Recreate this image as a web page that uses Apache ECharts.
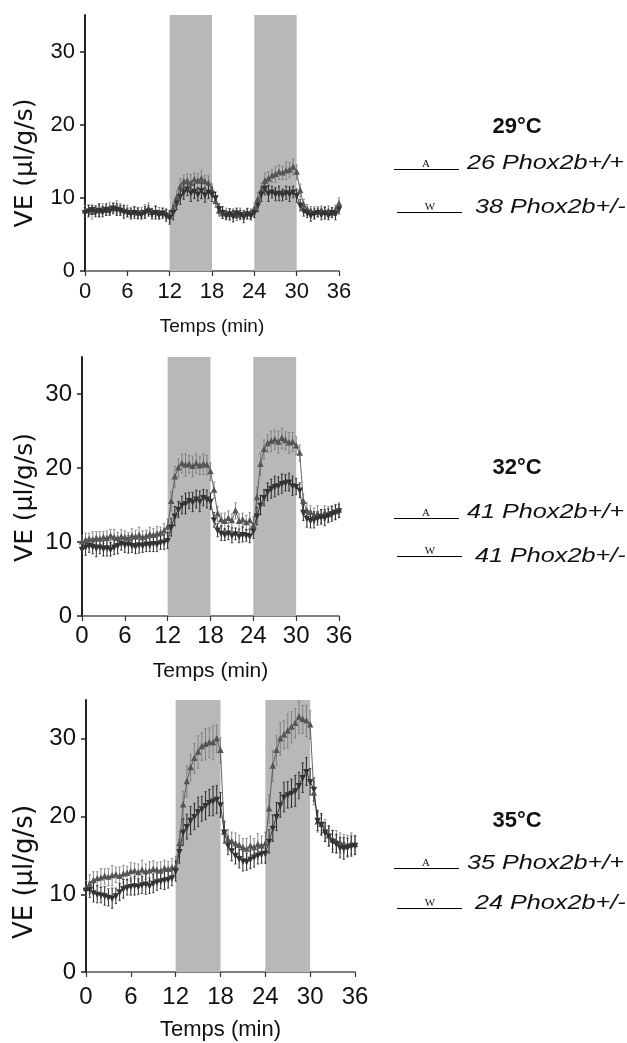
<!DOCTYPE html>
<html>
<head>
<meta charset="utf-8">
<script src="https://cdn.jsdelivr.net/npm/echarts@6/dist/echarts.min.js"></script>
<style>html,body{margin:0;padding:0;background:#fff;}#c{width:627px;height:1043px;}</style>
</head>
<body>
<div id="c"></div>
<script>
// ---- data ----
const times = [0,0.5,1,1.5,2,2.5,3,3.5,4,4.5,5,5.5,6,6.5,7,7.5,8,8.5,9,9.5,10,10.5,11,11.5,
  12,12.5,13,13.5,14,14.5,15,15.5,16,16.5,17,17.5,18,18.5,19,19.5,20,20.5,21,21.5,22,22.5,23,23.5,
  24,24.5,25,25.5,26,26.5,27,27.5,28,28.5,29,29.5,30,30.5,31,31.5,32,32.5,33,33.5,34,34.5,35,35.5,36];
const xTicks = [0,6,12,18,24,30,36];
const yTicks = [0,10,20,30];
const bands = [[12,18],[24,30]];
const temperatures = ['29°C','32°C','35°C'];
const labelsWT = ['26 Phox2b+/+','41 Phox2b+/+','35 Phox2b+/+'];
const labelsHET = ['38 Phox2b+/-','41 Phox2b+/-','24 Phox2b+/-'];

// 29°C
const ve29WT = [8.2,8.3,8.0,8.4,8.2,8.5,8.3,8.6,8.5,8.7,8.5,8.3,8.2,8.0,8.1,7.9,8.0,8.2,8.5,8.0,8.1,7.9,8.0,7.8,
  7.5,8.5,10.0,11.5,12.2,12.3,12.0,12.5,12.3,12.6,12.2,12.0,
  11.0,9.5,8.2,7.8,7.9,7.7,7.9,7.6,7.8,7.7,7.9,7.8,
  8.5,9.8,11.0,12.3,12.6,13.0,13.2,13.5,13.4,13.7,13.8,14.2,
  13.5,11.0,9.0,8.4,8.2,8.0,8.1,8.3,8.0,8.2,7.9,8.3,9.2];
const ve29HET = [8.0,8.2,8.4,8.1,8.3,8.1,8.4,8.2,8.6,8.4,8.3,8.1,8.0,7.8,8.0,7.9,7.7,8.0,8.2,7.8,8.0,7.7,7.9,7.6,
  7.3,8.0,9.3,10.2,10.8,11.2,10.7,10.9,10.5,11.0,10.4,10.8,
  10.5,10.0,8.5,8.0,7.6,7.8,7.5,7.9,7.7,7.4,7.8,7.6,
  8.0,9.0,10.5,11.3,10.6,10.8,10.5,10.6,10.4,10.7,10.5,10.8,
  10.3,9.0,8.2,7.9,7.6,7.8,8.0,7.7,7.9,7.6,8.0,7.8,8.5];
const err29WT = [0.8,0.7,0.9,0.6,0.8,0.7,0.6,0.8,0.7,0.9,0.7,0.6,0.8,0.7,0.6,0.8,0.7,0.9,0.8,0.6,0.7,0.8,0.6,0.7,
  0.8,0.9,1.0,1.1,0.9,1.0,1.2,0.9,1.0,1.1,0.9,1.0,
  0.9,0.8,0.7,0.6,0.7,0.8,0.6,0.7,0.8,0.6,0.7,0.7,
  0.8,0.9,1.0,1.1,1.0,0.9,1.1,1.0,0.9,1.2,1.0,1.1,
  1.0,0.9,0.8,0.7,0.6,0.8,0.7,0.6,0.8,0.7,0.6,0.7,0.8];
const err29HET = [0.7,0.8,0.6,0.7,0.9,0.7,0.8,0.6,0.7,0.8,0.7,0.9,0.6,0.7,0.8,0.7,0.6,0.8,0.7,0.7,0.9,0.6,0.7,0.8,
  0.9,1.0,0.9,1.1,1.0,0.9,1.2,1.0,0.9,1.1,1.0,0.9,
  1.0,0.8,0.7,0.8,0.6,0.7,0.8,0.7,0.6,0.8,0.7,0.6,
  0.7,0.9,1.0,0.9,1.1,0.8,0.9,1.0,0.8,0.9,1.0,0.8,
  0.9,0.8,0.7,0.6,0.8,0.7,0.6,0.7,0.8,0.6,0.7,0.8,0.7];

// 32°C
const ve32WT = [10.0,10.2,10.4,10.3,10.5,10.4,10.6,10.5,10.8,10.6,10.5,10.7,10.6,10.5,10.8,10.7,10.9,10.6,10.8,11.0,10.9,11.1,11.2,11.5,
  12.0,15.5,18.8,20.0,20.6,20.4,20.5,20.2,20.6,20.3,20.5,20.4,
  19.5,17.0,13.8,13.0,12.8,13.2,12.9,14.2,12.8,13.0,12.6,12.9,
  12.2,16.0,20.5,22.5,23.3,23.6,23.8,23.5,24.0,23.7,23.4,23.5,
  23.0,22.0,15.5,14.2,14.0,13.6,13.8,13.5,13.9,13.7,14.0,14.1,14.3];
const ve32HET = [9.0,9.3,9.5,9.4,9.2,9.3,9.1,9.2,9.0,9.3,9.5,9.8,9.6,9.7,9.5,9.4,9.6,9.5,9.7,9.6,9.8,9.7,9.9,10.0,
  10.2,12.0,13.5,14.4,15.0,15.2,15.6,15.4,15.8,15.5,16.0,15.8,
  15.5,13.0,11.6,11.2,11.0,11.2,10.9,11.1,10.8,11.0,10.9,10.8,
  11.5,13.5,15.0,16.0,16.8,17.2,17.5,17.6,17.9,18.0,18.1,17.6,
  17.5,17.0,14.0,13.2,12.9,13.0,13.2,13.4,13.3,13.6,13.8,14.0,14.2];
const err32WT = [0.9,1.0,0.8,1.1,0.9,1.0,0.8,1.0,0.9,1.1,0.8,1.0,0.9,0.8,1.0,0.9,1.1,0.9,0.8,1.0,0.9,1.0,0.8,1.0,
  1.1,1.3,1.4,1.2,1.3,1.5,1.2,1.4,1.3,1.2,1.4,1.3,
  1.2,1.1,1.0,0.9,1.1,1.0,0.9,1.1,1.0,0.9,1.0,1.1,
  1.2,1.4,1.5,1.3,1.2,1.4,1.3,1.5,1.4,1.2,1.4,1.3,
  1.2,1.1,1.0,1.1,0.9,1.0,1.1,0.9,1.0,1.1,0.9,1.0,1.0];
const err32HET = [1.0,1.1,0.9,1.0,1.2,0.9,1.0,1.1,0.9,1.0,1.1,0.9,1.0,1.2,0.9,1.0,1.1,0.9,1.0,0.9,1.1,1.0,0.9,1.0,
  1.1,1.2,1.3,1.1,1.2,1.4,1.1,1.3,1.2,1.4,1.1,1.2,
  1.1,1.0,0.9,1.0,0.8,0.9,1.0,0.8,0.9,1.0,0.8,0.9,
  1.0,1.2,1.3,1.1,1.2,1.3,1.4,1.2,1.3,1.1,1.2,1.3,
  1.1,1.0,1.1,1.2,1.0,1.1,0.9,1.0,1.1,0.9,1.0,1.0,0.9];

// 35°C
const ve35WT = [10.8,11.3,11.8,12.0,12.1,12.3,12.2,12.4,12.5,12.3,12.6,12.7,12.9,13.0,12.8,13.1,12.9,13.0,13.2,13.1,13.0,13.3,13.2,13.4,
  13.5,16.5,21.5,24.5,26.3,27.5,28.3,29.0,29.3,29.5,29.5,30.0,
  28.5,18.0,17.0,16.8,16.5,16.3,16.0,15.8,16.2,16.0,16.4,16.2,
  16.5,21.0,26.5,28.5,30.0,30.5,31.0,31.5,32.0,32.8,32.5,32.3,
  31.8,23.0,19.3,19.0,18.2,17.5,17.0,16.8,16.6,16.5,16.3,16.5,16.4];
const ve35HET = [10.5,10.6,10.2,10.0,9.9,9.8,9.6,9.5,9.8,10.3,10.7,10.9,11.0,11.1,11.0,11.2,11.3,11.1,11.4,11.6,11.7,11.8,11.9,12.1,
  13.0,15.5,18.0,18.7,19.5,20.0,20.6,21.0,21.4,21.8,22.0,22.2,
  21.5,18.0,16.3,15.6,15.0,14.6,14.3,14.2,14.5,14.8,15.0,15.2,
  15.3,16.8,18.5,20.0,21.5,22.5,22.8,23.0,23.3,24.0,25.0,25.8,
  24.5,23.5,19.5,19.0,18.0,17.5,16.8,16.5,16.0,15.9,16.0,16.2,16.3];
const err35WT = [1.0,1.2,1.1,0.9,1.2,1.0,1.1,1.3,1.0,1.2,1.1,0.9,1.2,1.0,1.1,1.3,1.0,1.2,1.1,1.0,1.2,1.1,1.0,1.2,
  1.4,1.6,1.8,2.0,1.7,1.9,2.1,1.8,2.0,1.9,2.2,1.8,
  1.6,1.4,1.3,1.2,1.4,1.3,1.2,1.4,1.3,1.2,1.4,1.3,
  1.5,1.8,2.0,1.9,2.1,1.8,2.2,2.0,1.9,2.1,1.8,2.0,
  1.8,1.5,1.3,1.2,1.4,1.3,1.2,1.4,1.3,1.2,1.3,1.4,1.2];
const err35HET = [1.1,1.0,1.2,1.1,1.0,1.2,1.1,1.3,1.0,1.1,1.2,1.0,1.1,1.2,1.0,1.1,1.3,1.0,1.2,1.1,1.0,1.2,1.1,1.0,
  1.3,1.5,1.7,1.6,1.8,1.7,1.9,1.6,1.8,1.7,1.9,1.8,
  1.6,1.4,1.2,1.3,1.1,1.2,1.3,1.1,1.2,1.3,1.1,1.2,
  1.3,1.5,1.7,1.8,1.6,1.9,1.7,1.8,2.0,1.7,1.9,1.8,
  1.7,1.5,1.3,1.4,1.2,1.3,1.4,1.2,1.3,1.4,1.2,1.3,1.2];

const panelWT = [ve29WT, ve32WT, ve35WT];
const panelHET = [ve29HET, ve32HET, ve35HET];
const panelErrWT = [err29WT, err32WT, err35WT];
const panelErrHET = [err29HET, err32HET, err35HET];

// ---- layout ----
const FONT = 'Liberation Sans, Arial, sans-serif';
const YFONT = 'DejaVu Sans, Liberation Sans, sans-serif';
const grids = [
  {left: 85, top: 15, width: 254, height: 256},
  {left: 82, top: 357, width: 257, height: 259},
  {left: 86, top: 700, width: 269, height: 272}
];
const tickFont = [22, 24, 24];
const xLabelMargin = [10, 8, 13];
const yNameFont = [25, 25, 26];
const yNameGap = [47, 44, 48];
const yNameShift = [40, 22, 72];
const xNameFont = [19, 21, 22];
const xNameGap = [46, 45, 47];
const legendPos = [
  {title: 127, l1: 169, t1: 163, l2: 212, t2: 207},
  {title: 468, l1: 518, t1: 512, l2: 556, t2: 556},
  {title: 821, l1: 868, t1: 863, l2: 908, t2: 903}
];

const chart = echarts.init(document.getElementById('c'), null, {renderer: 'canvas'});

function errRender(color, lw) {
  return function (params, api) {
    const lo = api.coord([api.value(0), api.value(1)]);
    const hi = api.coord([api.value(0), api.value(2)]);
    const w = 1.2;
    return {
      type: 'group',
      children: [
        {type: 'line', shape: {x1: lo[0], y1: lo[1], x2: hi[0], y2: hi[1]}, style: {stroke: color, lineWidth: lw}},
        {type: 'line', shape: {x1: hi[0] - w, y1: hi[1], x2: hi[0] + w, y2: hi[1]}, style: {stroke: color, lineWidth: 0.8}},
        {type: 'line', shape: {x1: lo[0] - w, y1: lo[1], x2: lo[0] + w, y2: lo[1]}, style: {stroke: color, lineWidth: 0.8}}
      ]
    };
  };
}

const xAxes = [], yAxes = [], series = [], graphics = [];
for (let i = 0; i < 3; i++) {
  xAxes.push({
    type: 'value', gridIndex: i, min: 0, max: 36,
    axisLine: {show: true, lineStyle: {color: '#555', width: 1.5}},
    axisTick: {show: true, length: 5, customValues: xTicks, lineStyle: {color: '#333', width: 1.2}},
    axisLabel: {customValues: xTicks, fontSize: tickFont[i], color: '#111', fontFamily: FONT, margin: xLabelMargin[i]},
    splitLine: {show: false},
    name: 'Temps (min)', nameLocation: 'middle', nameGap: xNameGap[i],
    nameTextStyle: {fontSize: xNameFont[i], color: '#111', fontFamily: FONT}
  });
  yAxes.push({
    type: 'value', gridIndex: i, min: 0, max: 35,
    axisLine: {show: true, lineStyle: {color: '#222', width: 2}},
    axisTick: {show: true, length: 5, customValues: yTicks, lineStyle: {color: '#222', width: 1.5}},
    axisLabel: {customValues: yTicks, fontSize: tickFont[i], color: '#111', fontFamily: FONT, margin: 10},
    splitLine: {show: false},
    name: 'VE (\u00b5l/g/s)', nameLocation: 'middle', nameRotate: 90, nameGap: yNameGap[i],
    nameTextStyle: {fontSize: yNameFont[i], color: '#111', fontFamily: YFONT, padding: [0, yNameShift[i], 0, 0]}
  });
  // band series
  series.push({
    type: 'line', xAxisIndex: i, yAxisIndex: i, data: [], z: 1, silent: true,
    markArea: {silent: true, itemStyle: {color: '#b6b8ba'},
      data: bands.map(b => [{xAxis: b[0]}, {xAxis: b[1]}])}
  });
  const wt = panelWT[i], het = panelHET[i], ewt = panelErrWT[i], eht = panelErrHET[i];
  series.push({
    type: 'custom', xAxisIndex: i, yAxisIndex: i, z: 2, silent: true,
    renderItem: errRender('#7a7a7a', 0.9), encode: {x: 0, y: [1, 2]},
    data: times.map((t, k) => [t, wt[k] - ewt[k], wt[k] + ewt[k]])
  });
  series.push({
    type: 'custom', xAxisIndex: i, yAxisIndex: i, z: 2, silent: true,
    renderItem: errRender('#262626', 1), encode: {x: 0, y: [1, 2]},
    data: times.map((t, k) => [t, het[k] - eht[k], het[k] + eht[k]])
  });
  series.push({
    type: 'line', xAxisIndex: i, yAxisIndex: i, z: 3, silent: true,
    data: times.map((t, k) => [t, wt[k]]),
    lineStyle: {color: '#555', width: 0.9},
    symbol: 'emptyTriangle', symbolSize: 3.2, showAllSymbol: true,
    itemStyle: {color: '#555', borderWidth: 0.6}
  });
  series.push({
    type: 'line', xAxisIndex: i, yAxisIndex: i, z: 3, silent: true,
    data: times.map((t, k) => [t, het[k]]),
    lineStyle: {color: '#2a2a2a', width: 0.9},
    symbol: 'emptyTriangle', symbolRotate: 180, symbolSize: 3.2, showAllSymbol: true,
    itemStyle: {color: '#333', borderWidth: 0.6}
  });

  // legend block
  const p = legendPos[i];
  graphics.push({type: 'text', x: 517, y: p.title, style: {text: temperatures[i], font: 'bold 22px ' + FONT, fill: '#111', align: 'center', verticalAlign: 'middle'}});
  graphics.push({type: 'line', shape: {x1: 394, y1: p.l1 + 0.5, x2: 459, y2: p.l1 + 0.5}, style: {stroke: '#000', lineWidth: 1}});
  graphics.push({type: 'text', x: 426, y: p.l1 + 1, style: {text: 'A', font: '11px Liberation Serif, serif', fill: '#111', align: 'center', verticalAlign: 'bottom'}});
  graphics.push({type: 'text', x: 467, y: p.t1, scaleX: 1.2, style: {text: labelsWT[i], font: 'italic 21px ' + FONT, fill: '#111', align: 'left', verticalAlign: 'middle'}});
  graphics.push({type: 'line', shape: {x1: 397, y1: p.l2 + 0.5, x2: 462, y2: p.l2 + 0.5}, style: {stroke: '#000', lineWidth: 1}});
  graphics.push({type: 'text', x: 430, y: p.l2 + 1, style: {text: 'W', font: '11px Liberation Serif, serif', fill: '#111', align: 'center', verticalAlign: 'bottom'}});
  graphics.push({type: 'text', x: 475, y: p.t2, scaleX: 1.2, style: {text: labelsHET[i], font: 'italic 21px ' + FONT, fill: '#111', align: 'left', verticalAlign: 'middle'}});
}

chart.setOption({
  animation: false,
  backgroundColor: '#fff',
  grid: grids,
  xAxis: xAxes,
  yAxis: yAxes,
  series: series,
  graphic: graphics
});
</script>
</body>
</html>
